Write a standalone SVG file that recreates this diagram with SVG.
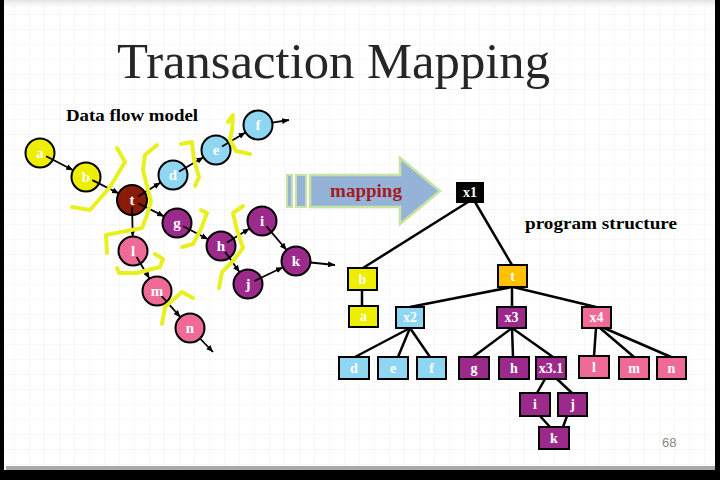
<svg xmlns="http://www.w3.org/2000/svg" width="720" height="480" viewBox="0 0 720 480">
<defs>
<pattern id="grid" width="15" height="15" patternUnits="userSpaceOnUse">
<path d="M15 0 V15 M0 15 H15" fill="none" stroke="#efefef" stroke-width="1"/>
</pattern>
<linearGradient id="topfade" x1="0" y1="0" x2="0" y2="1">
<stop offset="0" stop-color="#e2e2e2"/>
<stop offset="1" stop-color="#ffffff" stop-opacity="0"/>
</linearGradient>
<marker id="ah" markerWidth="7" markerHeight="6" refX="7" refY="3" orient="auto" markerUnits="userSpaceOnUse">
<path d="M0,0 L7,3 L0,6 z" fill="#000"/>
</marker>
<style>
.c{stroke:#000;stroke-width:2}
.cl{font-family:"Liberation Serif","DejaVu Serif",serif;font-weight:bold;font-size:15px;fill:#fff;text-anchor:middle}
.bx{stroke:#000;stroke-width:2}
.bl{font-family:"Liberation Serif","DejaVu Serif",serif;font-weight:bold;font-size:14px;fill:#fff;text-anchor:middle}
.yel{fill:#eeee00}.blu{fill:#8fd6f3}.pur{fill:#9b2a8b}.pnk{fill:#f06a98}.brn{fill:#8b1a08}.org{fill:#ffc000}.blk{fill:#000}
.dl line{stroke:#000;stroke-width:1.8;marker-end:url(#ah)}
.tl line{stroke:#000;stroke-width:2.5}
.br{fill:none;stroke:#e8f020;stroke-width:4;stroke-linejoin:round;stroke-linecap:round}
.hd{font-family:"Liberation Serif","DejaVu Serif",serif;font-weight:bold;font-size:17.5px;fill:#000}
</style>
</defs>
<rect x="0" y="0" width="720" height="480" fill="#000"/>
<rect x="4" y="0" width="711" height="470" fill="#fff"/>
<rect x="4" y="0" width="711" height="470" fill="url(#grid)"/>
<rect x="4" y="0" width="711" height="10" fill="url(#topfade)"/>
<rect x="6" y="466" width="709" height="4" fill="#a8a8a8"/>

<text x="117" y="78" font-family="'Liberation Serif','DejaVu Serif',serif" font-size="50" fill="#262626" textLength="433" lengthAdjust="spacingAndGlyphs">Transaction Mapping</text>
<text class="hd" x="66" y="121" textLength="132" lengthAdjust="spacingAndGlyphs">Data flow model</text>
<text class="hd" x="525" y="229" textLength="152" lengthAdjust="spacingAndGlyphs">program structure</text>
<text x="662" y="447" font-family="'Liberation Sans','DejaVu Sans',sans-serif" font-size="13" fill="#888">68</text>

<g id="mapping-arrow">
<rect x="287" y="175" width="5" height="32" fill="#95b3d7" stroke="#c6e3a4" stroke-width="2"/>
<rect x="296" y="175" width="10" height="32" fill="#95b3d7" stroke="#c6e3a4" stroke-width="2"/>
<polygon points="310,175 400,175 400,158 440,191 400,224 400,207 310,207" fill="#95b3d7" stroke="#c6e3a4" stroke-width="2.5"/>
<text x="366" y="197" font-family="'Liberation Serif','DejaVu Serif',serif" font-weight="bold" font-size="19" fill="#a31a24" text-anchor="middle">mapping</text>
</g>

<g id="dfd-a"><circle class="c yel" cx="40" cy="153" r="14.5"/><text class="cl" x="40" y="158">a</text></g>
<g id="dfd-b"><circle class="c yel" cx="86" cy="177" r="14.5"/><text class="cl" x="86" y="182">b</text></g>
<g id="dfd-t"><circle class="c brn" cx="132" cy="200" r="15"/><text class="cl" x="132" y="205">t</text></g>
<g id="dfd-d"><circle class="c blu" cx="173" cy="175" r="14.5"/><text class="cl" x="173" y="180">d</text></g>
<g id="dfd-e"><circle class="c blu" cx="216" cy="150" r="14.5"/><text class="cl" x="216" y="155">e</text></g>
<g id="dfd-f"><circle class="c blu" cx="258" cy="125" r="14.5"/><text class="cl" x="258" y="130">f</text></g>
<g id="dfd-g"><circle class="c pur" cx="177" cy="223" r="14.5"/><text class="cl" x="177" y="228">g</text></g>
<g id="dfd-h"><circle class="c pur" cx="221" cy="246" r="14.5"/><text class="cl" x="221" y="251">h</text></g>
<g id="dfd-i"><circle class="c pur" cx="262" cy="221" r="14.5"/><text class="cl" x="262" y="226">i</text></g>
<g id="dfd-j"><circle class="c pur" cx="248" cy="284" r="14.5"/><text class="cl" x="248" y="289">j</text></g>
<g id="dfd-k"><circle class="c pur" cx="296" cy="261" r="14.5"/><text class="cl" x="296" y="266">k</text></g>
<g id="dfd-l"><circle class="c pnk" cx="133" cy="251" r="14.5"/><text class="cl" x="133" y="256">l</text></g>
<g id="dfd-m"><circle class="c pnk" cx="157" cy="291" r="14.5"/><text class="cl" x="157" y="296">m</text></g>
<g id="dfd-n"><circle class="c pnk" cx="190" cy="328" r="14.5"/><text class="cl" x="190" y="333">n</text></g>

<g id="dfd-connectors" class="dl">
<line x1="46.2" y1="156.2" x2="73.2" y2="170.3"/>
<line x1="92.3" y1="180.1" x2="119" y2="193.5"/>
<line x1="138" y1="196.4" x2="160.6" y2="182.6"/>
<line x1="179.1" y1="171.5" x2="203.5" y2="157.3"/>
<line x1="222" y1="146.4" x2="245.5" y2="132.4"/>
<line x1="272.3" y1="122.7" x2="289" y2="120"/>
<line x1="138.2" y1="203.2" x2="164.1" y2="216.4"/>
<line x1="132.1" y1="207" x2="132.7" y2="236.5"/>
<line x1="183.2" y1="226.2" x2="208.1" y2="239.3"/>
<line x1="227" y1="242.4" x2="249.6" y2="228.6"/>
<line x1="225.1" y1="251.7" x2="239.6" y2="272.2"/>
<line x1="266.5" y1="226.3" x2="286.6" y2="250"/>
<line x1="254.3" y1="281" x2="282.9" y2="267.3"/>
<line x1="310.4" y1="262.5" x2="335" y2="265"/>
<line x1="136.6" y1="257" x2="149.5" y2="278.6"/>
<line x1="161.7" y1="296.2" x2="180.4" y2="317.2"/>
<line x1="200" y1="338.5" x2="213" y2="352"/>
</g>

<g id="brackets">
<polyline class="br" points="117,148 125,162 110,187 90,210 72,207"/>
<polyline class="br" points="157,145 145,155 143,170 148,190 151,202 146,218 142,228 106,235 107,253"/>
<polyline class="br" points="181,144 192,142 194,160 199,177 195,186"/>
<polyline class="br" points="228,122 233,115 232,130 230,140 236,151 250,154"/>
<polyline class="br" points="201,210 207,213 201,229 193,244 182,247"/>
<polyline class="br" points="243,206 233,213 237,230 243,248 233,261 222,272 219,288"/>
<polyline class="br" points="155,254 163,259 160,267 137,273 119,273 117,268"/>
<polyline class="br" points="193,298 182,292 165,307 162,324"/>
</g>

<g id="tree-connectors" class="tl">
<line x1="468" y1="202" x2="363" y2="268"/>
<line x1="475" y1="202" x2="512" y2="265"/>
<line x1="362" y1="290" x2="362" y2="306"/>
<line x1="512" y1="287" x2="410" y2="307"/>
<line x1="512" y1="287" x2="512" y2="307"/>
<line x1="513" y1="287" x2="596" y2="307"/>
<line x1="410" y1="328" x2="355" y2="357"/>
<line x1="410" y1="328" x2="398" y2="357"/>
<line x1="410" y1="328" x2="430" y2="357"/>
<line x1="512" y1="328" x2="473" y2="357"/>
<line x1="512" y1="328" x2="513" y2="357"/>
<line x1="512" y1="328" x2="553" y2="357"/>
<line x1="596" y1="328" x2="594" y2="356"/>
<line x1="600" y1="328" x2="634" y2="357"/>
<line x1="604" y1="328" x2="671" y2="357"/>
<line x1="545" y1="379" x2="537" y2="393"/>
<line x1="557" y1="379" x2="572" y2="393"/>
<line x1="540" y1="416" x2="550" y2="427"/>
<line x1="567" y1="416" x2="563" y2="427"/>
</g>

<g id="ps-x1"><rect class="bx blk" x="457" y="183" width="26" height="19"/><text class="bl" x="470" y="197">x1</text></g>
<g id="ps-b"><rect class="bx yel" x="348" y="268" width="29" height="22"/><text class="bl" x="362.5" y="284">b</text></g>
<g id="ps-a"><rect class="bx yel" x="349" y="306" width="29" height="21"/><text class="bl" x="363.5" y="321">a</text></g>
<g id="ps-t"><rect class="bx org" x="498" y="265" width="29" height="22"/><text class="bl" x="512.5" y="281">t</text></g>
<g id="ps-x2"><rect class="bx blu" x="396" y="307" width="28" height="21"/><text class="bl" x="410" y="322">x2</text></g>
<g id="ps-x3"><rect class="bx pur" x="497" y="307" width="29" height="21"/><text class="bl" x="511.5" y="322">x3</text></g>
<g id="ps-x4"><rect class="bx pnk" x="582" y="307" width="29" height="21"/><text class="bl" x="596.5" y="322">x4</text></g>
<g id="ps-d"><rect class="bx blu" x="339" y="357" width="30" height="22"/><text class="bl" x="354" y="373">d</text></g>
<g id="ps-e"><rect class="bx blu" x="378" y="357" width="30" height="22"/><text class="bl" x="393" y="373">e</text></g>
<g id="ps-f"><rect class="bx blu" x="417" y="357" width="29" height="22"/><text class="bl" x="431.5" y="373">f</text></g>
<g id="ps-g"><rect class="bx pur" x="459" y="357" width="30" height="22"/><text class="bl" x="474" y="373">g</text></g>
<g id="ps-h"><rect class="bx pur" x="499" y="357" width="30" height="22"/><text class="bl" x="514" y="373">h</text></g>
<g id="ps-x3.1"><rect class="bx pur" x="536" y="357" width="30" height="22"/><text class="bl" x="551" y="373">x3.1</text></g>
<g id="ps-l"><rect class="bx pnk" x="579" y="356" width="30" height="22"/><text class="bl" x="594" y="372">l</text></g>
<g id="ps-m"><rect class="bx pnk" x="619" y="357" width="30" height="22"/><text class="bl" x="634" y="373">m</text></g>
<g id="ps-n"><rect class="bx pnk" x="657" y="357" width="29" height="22"/><text class="bl" x="671.5" y="373">n</text></g>
<g id="ps-i"><rect class="bx pur" x="520" y="393" width="30" height="23"/><text class="bl" x="535" y="409">i</text></g>
<g id="ps-j"><rect class="bx pur" x="558" y="393" width="29" height="23"/><text class="bl" x="572.5" y="409">j</text></g>
<g id="ps-k"><rect class="bx pur" x="539" y="427" width="30" height="22"/><text class="bl" x="554" y="443">k</text></g>
</svg>
